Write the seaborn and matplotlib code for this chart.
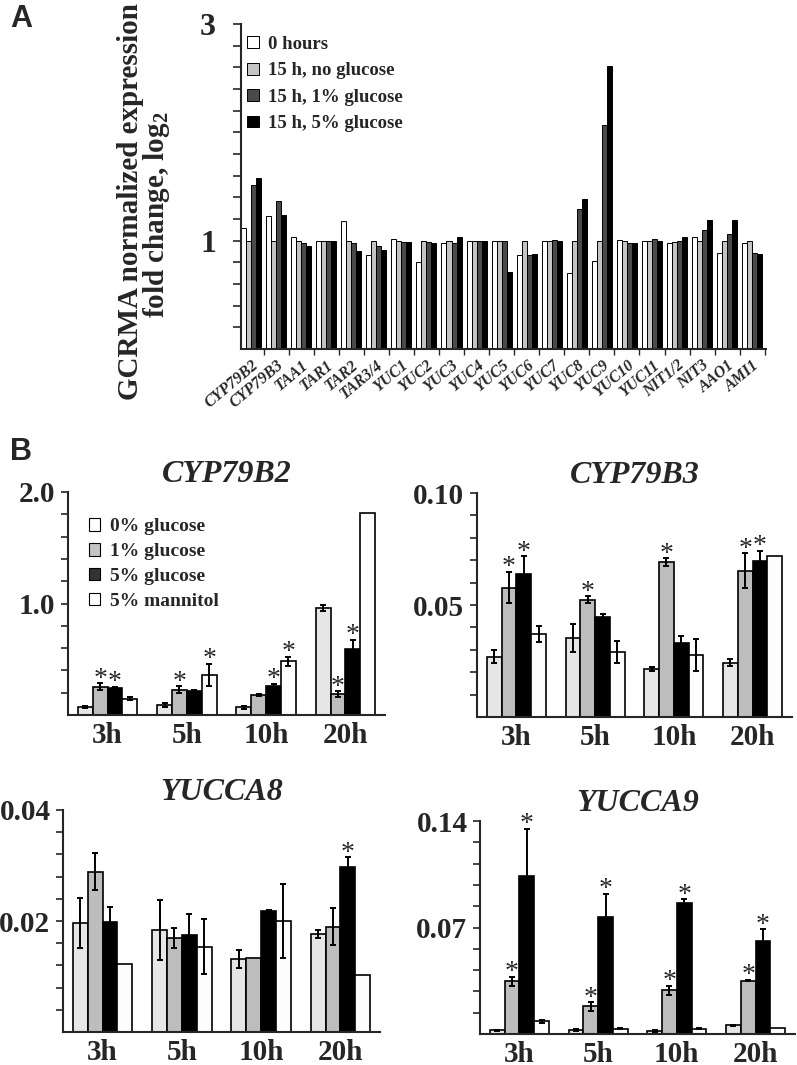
import numpy as np
import pandas as pd
import matplotlib
matplotlib.use("Agg")
import matplotlib.pyplot as plt
from matplotlib.patches import Patch
from matplotlib.container import BarContainer
import seaborn as sns

# ---- Panel A data (GCRMA fold change) ----
genes = ["CYP79B2", "CYP79B3", "TAA1", "TAR1", "TAR2", "TAR3/4", "YUC1", "YUC2",
         "YUC3", "YUC4", "YUC5", "YUC6", "YUC7", "YUC8", "YUC9", "YUC10", "YUC11",
         "NIT1/2", "NIT3", "AAO1", "AMI1"]
conds_a = ["0 hours", "15 h, no glucose", "15 h, 1% glucose", "15 h, 5% glucose"]
fc_0h = [1.12, 1.225, 1.034, 1.0, 1.18, 0.865, 1.018, 0.80, 0.976, 1.0, 0.994,
         0.87, 1.0, 0.70, 0.81, 1.01, 1.0, 0.976, 1.03, 0.89, 0.976]
fc_noglc = [1.0, 1.0, 1.0, 1.0, 1.0, 1.0, 1.0, 1.0, 1.0, 1.0, 1.0,
            1.0, 1.0, 1.0, 1.0, 1.0, 1.0, 0.99, 1.0, 1.0, 1.0]
fc_1glc = [1.51, 1.37, 0.976, 1.0, 0.976, 0.951, 0.99, 0.985, 0.976, 1.0, 0.994,
           0.87, 1.01, 1.29, 2.07, 0.976, 1.018, 1.0, 1.10, 1.06, 0.89]
fc_5glc = [1.58, 1.24, 0.954, 1.0, 0.907, 0.917, 0.985, 0.976, 1.034, 1.0, 0.71,
           0.88, 1.0, 1.38, 2.61, 0.976, 1.0, 1.034, 1.19, 1.19, 0.88]
colors_a = ["#ffffff", "#c4c4c4", "#4a4a4a", "#000000"]

# ---- Panel B data (qRT-PCR) ; rows = conditions, cols = times ----
times = ["3h", "5h", "10h", "20h"]
conds_b = ["0% glucose", "1% glucose", "5% glucose", "5% mannitol"]
colors_b = ["#e6e6e6", "#bdbdbd", "#000000", "#fdfdfd"]

cyp79b2_mean = [[0.075, 0.09, 0.07, 0.962], [0.254, 0.227, 0.177, 0.186],
                [0.242, 0.215, 0.257, 0.592], [0.146, 0.356, 0.48, 1.81]]
cyp79b2_err = [[0.008, 0.02, 0.015, 0.025], [0.03, 0.03, 0.008, 0.025],
               [0.01, 0.005, 0.02, 0.08], [0.015, 0.1, 0.04, 0]]
cyp79b2_star = [[0, 0, 0, 0], [1, 1, 0, 1], [1, 0, 1, 1], [0, 1, 1, 0]]

cyp79b3_mean = [[0.0269, 0.0354, 0.0215, 0.0242], [0.0577, 0.0524, 0.0691, 0.0652],
                [0.0639, 0.0448, 0.0331, 0.0697], [0.0369, 0.029, 0.0276, 0.0719]]
cyp79b3_err = [[0.0028, 0.0063, 0.001, 0.0015], [0.007, 0.0015, 0.0017, 0.0078],
               [0.0078, 0.001, 0.003, 0.0045], [0.0036, 0.005, 0.007, 0]]
cyp79b3_star = [[0, 0, 0, 0], [1, 1, 1, 1], [1, 0, 0, 1], [0, 0, 0, 0]]

yucca8_mean = [[0.0196, 0.0184, 0.0132, 0.0176], [0.0289, 0.0169, 0.0133, 0.019],
               [0.0199, 0.0175, 0.0218, 0.0298], [0.0122, 0.0154, 0.020, 0.0103]]
yucca8_err = [[0.0045, 0.0054, 0.0016, 0.0007], [0.0033, 0.0018, 0, 0.0034],
              [0.0026, 0.0038, 0.0001, 0.0017], [0, 0.005, 0.0067, 0]]
yucca8_star = [[0, 0, 0, 0], [0, 0, 0, 0], [0, 0, 0, 1], [0, 0, 0, 0]]

yucca9_mean = [[0.0024, 0.0028, 0.002, 0.0056], [0.0347, 0.0181, 0.0288, 0.0351],
               [0.1037, 0.0766, 0.086, 0.0609], [0.0083, 0.0035, 0.0035, 0.0039]]
yucca9_err = [[0.0005, 0.0007, 0.0007, 0.0004], [0.0029, 0.0028, 0.003, 0.0005],
              [0.031, 0.0154, 0.0025, 0.0079], [0.001, 0.0004, 0.0002, 0]]
yucca9_star = [[0, 0, 0, 0], [1, 1, 1, 1], [1, 1, 1, 1], [0, 0, 0, 0]]

sns.set_style("ticks")
plt.rcParams["font.family"] = ["Liberation Serif", "DejaVu Serif"]
plt.rcParams["font.weight"] = "bold"
plt.rcParams["mathtext.fontset"] = "custom"
plt.rcParams["mathtext.rm"] = "Liberation Serif:bold"
plt.rcParams["mathtext.bf"] = "Liberation Serif:bold"

W, H = 797, 1065
fig = plt.figure(figsize=(W / 100, H / 100), dpi=100)


def px_axes(x0, y0, x1, y1):
    # pixel box (top-left origin) -> figure axes
    return fig.add_axes([x0 / W, 1 - y1 / H, (x1 - x0) / W, (y1 - y0) / H])


def style_axes(ax, lw=1.5):
    sns.despine(ax=ax)
    ax.spines["left"].set_linewidth(lw)
    ax.spines["bottom"].set_linewidth(lw)


# ================= Panel A =================
axA = px_axes(241, 24, 766, 349)
df_a = pd.DataFrame({
    "gene": genes * 4,
    "condition": np.repeat(conds_a, len(genes)),
    "value": fc_0h + fc_noglc + fc_1glc + fc_5glc,
})
sns.barplot(data=df_a, x="gene", y="value", hue="condition", hue_order=conds_a,
            palette=colors_a, edgecolor="black", linewidth=0.7, width=0.8,
            saturation=1, errorbar=None, legend=False, ax=axA)
style_axes(axA)
axA.set_xlim(-0.4, 20.55)
axA.set_ylim(0, 3)
ya = np.round(np.arange(0.2, 3.01, 0.2), 1)
axA.set_yticks(ya)
axA.set_yticklabels(["1" if v == 1.0 else ("3" if v == 3.0 else "") for v in ya],
                    fontsize=23, fontweight="bold")
axA.tick_params(axis="y", direction="out", length=6, width=1.2, pad=12)
axA.set_xticks(range(len(genes)))
axA.set_xticklabels(genes, rotation=40, ha="right", rotation_mode="anchor",
                    fontsize=11.5, fontstyle="italic", fontweight="bold")
axA.tick_params(axis="x", length=0, pad=6)
axA.set_xticks(np.arange(0.5, len(genes), 1), minor=True)
axA.tick_params(axis="x", which="minor", direction="out", length=4, width=1)
axA.set_xlabel("")
axA.set_ylabel("")
handles_a = [Patch(facecolor=c, edgecolor="black", linewidth=0.7) for c in colors_a]
axA.legend(handles_a, conds_a, loc="upper left", bbox_to_anchor=(-0.02, 1.015),
           frameon=False, handlelength=0.6, handleheight=0.6,
           handletextpad=0.5, labelspacing=0.5,
           prop={"weight": "bold", "size": 13.5})
fig.text(130 / W, 1 - 201 / H, "GCRMA normalized expression",
         rotation=90, ha="center", va="center", fontsize=21, fontweight="bold")
fig.text(157 / W, 1 - 215 / H, "fold change, log$_{2}$",
         rotation=90, ha="center", va="center", fontsize=21, fontweight="bold")
fig.text(10 / W, 1 - 19 / H, "A", fontsize=22, fontweight="bold",
         family="Liberation Sans", va="center")
fig.text(10 / W, 1 - 452 / H, "B", fontsize=22, fontweight="bold",
         family="Liberation Sans", va="center")


# ================= Panel B =================
def panel_b(box, title, mean, err, star, step, labeled, fmt, legend=False):
    ax = px_axes(*box)
    df = pd.DataFrame({
        "time": times * 4,
        "condition": np.repeat(conds_b, len(times)),
        "value": np.ravel(mean),
    })
    sns.barplot(data=df, x="time", y="value", hue="condition", hue_order=conds_b,
                palette=colors_b, edgecolor="black", linewidth=1.2, width=0.75,
                saturation=1, errorbar=None, legend=False, ax=ax)
    bars = [c for c in ax.containers if isinstance(c, BarContainer)]
    for k, cont in enumerate(bars):
        xs = np.array([b.get_x() + b.get_width() / 2 for b in cont.patches])
        e = np.array(err[k])
        m = np.array(mean[k])
        ok = e > 0
        ax.errorbar(xs[ok], m[ok], yerr=e[ok], fmt="none",
                    ecolor="black", elinewidth=1.4, capsize=2, capthick=1.4)
        for j, s in enumerate(star[k]):
            if s:
                ax.annotate("*", (xs[j], m[j] + e[j]), xytext=(0, -6),
                            textcoords="offset points", ha="center", va="bottom",
                            fontsize=20, fontweight="normal")
    style_axes(ax)
    ax.set_xlim(-0.5, 3.5)
    top = step * 10
    ax.set_ylim(0, top)
    yt = np.arange(1, 11) * step
    ax.set_yticks(yt)
    ax.set_yticklabels([fmt.format(v) if i + 1 in labeled else ""
                        for i, v in enumerate(yt)], fontsize=21, fontweight="bold")
    ax.tick_params(axis="y", direction="out", length=5, width=1.2, pad=4)
    ax.tick_params(axis="x", length=0, pad=5, labelsize=21)
    for t in ax.get_xticklabels():
        t.set_fontweight("bold")
    ax.set_xlabel("")
    ax.set_ylabel("")
    ax.set_title(title, fontsize=23, fontstyle="italic", fontweight="bold", pad=7)
    if legend:
        hb = [Patch(facecolor=c, edgecolor="black", linewidth=0.8)
              for c in ["#ffffff", "#c4c4c4", "#333333", "#ffffff"]]
        ax.legend(hb, conds_b, loc="upper left", bbox_to_anchor=(0.01, 0.96),
                  frameon=False, handlelength=0.6, handleheight=0.6,
                  handletextpad=0.5, labelspacing=0.4,
                  prop={"weight": "bold", "size": 14})
    return ax


panel_b((68, 492, 385, 715), "CYP79B2", cyp79b2_mean, cyp79b2_err, cyp79b2_star,
        0.2, (5, 10), "{:.1f}", legend=True)
panel_b((477, 493, 792, 717), "CYP79B3", cyp79b3_mean, cyp79b3_err, cyp79b3_star,
        0.01, (5, 10), "{:.2f}")
panel_b((63, 810, 380, 1032), "YUCCA8", yucca8_mean, yucca8_err, yucca8_star,
        0.004, (5, 10), "{:.2f}")
panel_b((480, 821, 795, 1034), "YUCCA9", yucca9_mean, yucca9_err, yucca9_star,
        0.014, (5, 10), "{:.2f}")

fig.savefig("out.png", dpi=100)
